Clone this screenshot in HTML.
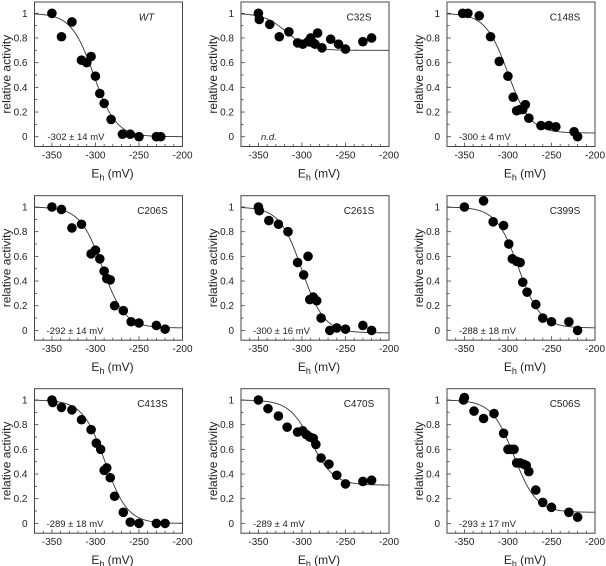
<!DOCTYPE html>
<html><head><meta charset="utf-8">
<style>
body{margin:0;background:#fff;}
svg{display:block;font-family:"Liberation Sans",Arial,sans-serif;}
</style></head>
<body>
<svg id="fig" width="606" height="566" viewBox="0 0 606 566" xmlns="http://www.w3.org/2000/svg"></svg>
<script>
const panelNames = ["WT","C32S","C148S","C206S","C261S","C399S","C413S","C470S","C506S"];
const midpoints = ["-302 ± 14 mV","n.d.","-300 ± 4 mV","-292 ± 14 mV","-300 ± 16 mV","-288 ± 18 mV","-289 ± 18 mV","-289 ± 4 mV","-293 ± 17 mV"];
const fitEm = [-302,-318,-300,-292,-300,-288,-289,-289,-293];
const fitMin = [0,0.7,0.03,0.02,-0.02,0.02,0,0.31,0.09];
const xTicks = [-350,-300,-250,-200];
const yTicks = [0,0.2,0.4,0.6,0.8,1];
const yTickLabels = ["0","0.2","0.4","0.6","0.8","1"];
const ehWT = [-350,-339,-327,-316,-310,-305,-300,-295,-290,-282,-269,-260,-250,-230,-225];
const actWT = [1.0,0.81,0.93,0.62,0.6,0.65,0.49,0.35,0.27,0.14,0.02,0.02,0,0,0];
const ehC32S = [-350,-349,-337,-326,-315,-305,-299,-293,-290,-287,-285,-282,-277,-267,-258,-250,-230,-220];
const actC32S = [1.0,0.95,0.91,0.81,0.85,0.76,0.75,0.77,0.8,0.76,0.75,0.84,0.72,0.79,0.75,0.71,0.77,0.8];
const ehC148S = [-352,-346,-333,-320,-310,-300,-294,-290,-286,-283,-280,-276,-262,-253,-245,-224,-220];
const actC148S = [1,1,0.98,0.81,0.61,0.49,0.32,0.21,0.22,0.22,0.26,0.15,0.09,0.09,0.08,0.04,0.0];
const ehC206S = [-350,-339,-327,-316,-305,-300,-295,-290,-287,-283,-278,-268,-259,-250,-230,-220];
const actC206S = [1,0.98,0.83,0.86,0.62,0.65,0.58,0.48,0.42,0.41,0.2,0.16,0.07,0.06,0.04,0.01];
const ehC261S = [-350,-349,-338,-327,-316,-305,-298,-293,-291,-287,-283,-278,-268,-260,-250,-230,-220];
const actC261S = [1,0.97,0.89,0.86,0.8,0.55,0.45,0.6,0.25,0.27,0.24,0.1,0,0.02,0.01,0.04,0];
const ehC399S = [-350,-328,-317,-305,-299,-295,-290,-286,-283,-278,-268,-260,-250,-230,-220];
const actC399S = [1,1.05,0.88,0.85,0.7,0.58,0.56,0.55,0.39,0.31,0.21,0.1,0.07,0.07,0];
const ehC413S = [-350,-349,-339,-327,-316,-305,-299,-294,-290,-287,-283,-278,-268,-260,-250,-230,-220];
const actC413S = [1,0.98,0.94,0.92,0.84,0.76,0.65,0.6,0.43,0.45,0.37,0.22,0.09,0.01,0,0,0];
const ehC470S = [-350,-339,-327,-317,-305,-299,-295,-291,-287,-284,-278,-269,-260,-250,-230,-220];
const actC470S = [1,0.93,0.87,0.78,0.74,0.75,0.72,0.7,0.69,0.64,0.53,0.48,0.39,0.32,0.34,0.35];
const ehC506S = [-351,-350,-339,-328,-316,-305,-300,-296,-293,-290,-286,-282,-279,-276,-268,-260,-250,-230,-220];
const actC506S = [1,1.02,0.91,0.85,0.89,0.73,0.6,0.6,0.6,0.49,0.49,0.48,0.47,0.42,0.27,0.17,0.13,0.09,0.05];
const allEh = [ehWT,ehC32S,ehC148S,ehC206S,ehC261S,ehC399S,ehC413S,ehC470S,ehC506S];
const allAct = [actWT,actC32S,actC148S,actC206S,actC261S,actC399S,actC413S,actC470S,actC506S];

const NS="http://www.w3.org/2000/svg";
const svg=document.getElementById('fig');
function mk(tag,attrs,parent){const e=document.createElementNS(NS,tag);for(const k in attrs)e.setAttribute(k,attrs[k]);(parent||svg).appendChild(e);return e;}
const colLeft=[34.5,241,447], rowY1=[13.3,207,400];
const W=148, yScale=123.4, X0=-370, X1=-200;
for(let p=0;p<9;p++){
  const r=Math.floor(p/3), c=p%3;
  const L=colLeft[c], y1=rowY1[r], y0=y1+yScale;
  const top=y1-11.3, bot=y0+9.8;
  const sx=v=>L+(v-X0)/(X1-X0)*W;
  const sy=v=>y0-v*yScale;
  const g=mk('g',{});
  
  
  const box=mk('rect',{x:L,y:top,width:W,height:bot-top,fill:'none',stroke:'#444','stroke-width':1},g);
  
  // x minor ticks
  for(let v=-360;v<=-200;v+=10){
    const major=(v%50===0);
    mk('line',{x1:sx(v),x2:sx(v),y1:bot,y2:bot-(major?4:2.5),stroke:'#444','stroke-width':0.8},g);
  }
  xTicks.forEach(v=>{
    const t=mk('text',{x:sx(v),y:bot+12,'font-size':10,'text-anchor':'middle',fill:'#222'},g);
    t.textContent=v;
    
  });
  for(let v=0;v<=1.001;v+=0.1){
    const major=Math.abs(v*5-Math.round(v*5))<1e-6;
    mk('line',{x1:L,x2:L+(major?4:2.5),y1:sy(v),y2:sy(v),stroke:'#444','stroke-width':0.8},g);
  }
  yTicks.forEach((v,i)=>{
    const t=mk('text',{x:L-7,y:sy(v)+3.5,'font-size':10,'text-anchor':'end',fill:'#222'},g);
    t.textContent=yTickLabels[i];
    
  });
  const yl=mk('text',{x:0,y:0,'font-size':12,'text-anchor':'middle',fill:'#222',transform:`translate(${L-24},${(top+bot)/2}) rotate(-90)`},g);
  yl.textContent='relative activity';
  
  const xl=mk('text',{x:L+W/2+4,y:bot+31,'font-size':12,'text-anchor':'middle',fill:'#222'},g);
  xl.innerHTML='E<tspan font-size="9" dy="3">h</tspan><tspan dy="-3"> (mV)</tspan>';
  
  // fit curve
  let d='';
  for(let v=X0;v<=X1;v+=1){
    const f=fitMin[p]+(1-fitMin[p])/(1+Math.exp((v-fitEm[p])*0.078));
    d+=(v===X0?'M':'L')+sx(v).toFixed(2)+','+sy(f).toFixed(2);
  }
  const cv=mk('path',{d:d,fill:'none',stroke:'#333','stroke-width':0.9},g);
  
  allEh[p].forEach((e,i)=>{
    const dot=mk('circle',{cx:sx(e),cy:sy(allAct[p][i]),r:4.8,fill:'#000'},g);
    
  });
  const nm=mk('text',{x:L+(p===0?112:118),y:y1+7,'font-size':10,'text-anchor':'middle',fill:'#222','font-style':p===0?'italic':'normal'},g);
  nm.textContent=panelNames[p];
  
  const em=mk('text',{x:L+(p===1?20:12+(c===0&&r===0?1:0)),y:y0+3.5,'font-size':9.5,fill:'#222','font-style':p===1?'italic':'normal'},g);
  em.textContent=midpoints[p];
  
}
</script>
</body></html>
